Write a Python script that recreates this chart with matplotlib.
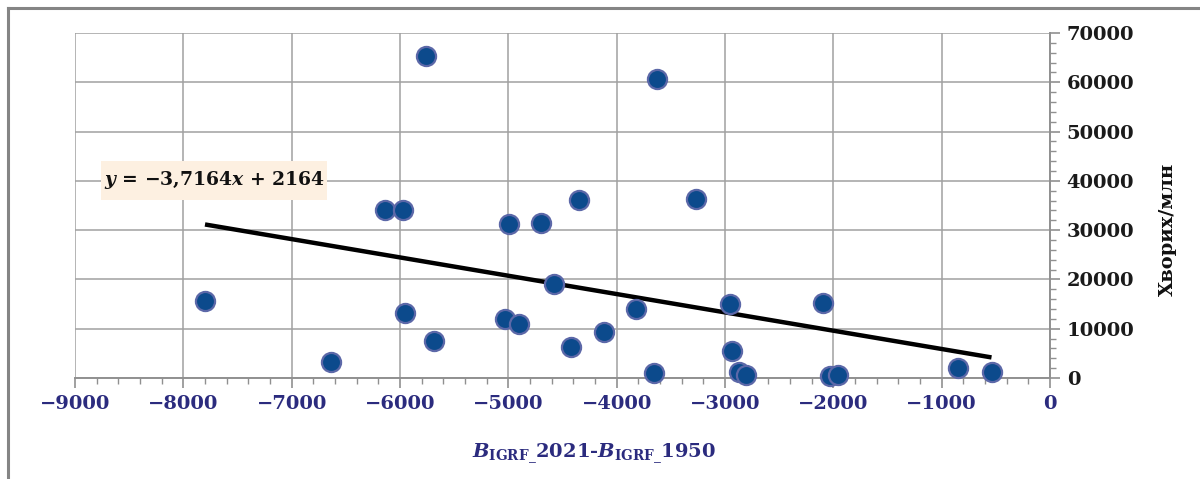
import matplotlib
matplotlib.use("Agg")
import matplotlib.pyplot as plt
from matplotlib.ticker import MultipleLocator
from matplotlib.lines import Line2D
from matplotlib.patches import Rectangle

# ---- data ----
x_vals = [-7800, -6640, -5760, -6140, -5970, -5950, -5690, -5030, -4900, -4990,
          -4700, -4580, -4420, -4350, -4120, -3820, -3660, -3630, -3270, -2950,
          -2940, -2870, -2810, -2100, -2030, -1960, -850, -540]
y_vals = [15700, 3300, 65400, 34000, 34000, 13200, 7500, 12000, 11000, 31200,
          31400, 19100, 6200, 36100, 9300, 13900, 1000, 60600, 36300, 15000,
          5500, 1200, 600, 15200, 400, 700, 2100, 1200]
slope = -3.7164
intercept = 2164
x_ticks = [-9000, -8000, -7000, -6000, -5000, -4000, -3000, -2000, -1000, 0]
y_ticks = [0, 10000, 20000, 30000, 40000, 50000, 60000, 70000]
equation = "$y$ = \u22123,7164$x$ + 2164"
x_label = r"$B_{\mathrm{IGRF\_}}$2021-$B_{\mathrm{IGRF\_}}$1950"
y_label = "Хворих/млн"

plt.rcParams['font.family'] = ['DejaVu Serif']
plt.rcParams['mathtext.fontset'] = 'custom'
plt.rcParams['mathtext.it'] = 'DejaVu Serif:italic:bold'
plt.rcParams['mathtext.rm'] = 'DejaVu Serif:bold'
plt.rcParams['mathtext.bf'] = 'DejaVu Serif:bold'

navy = '#2b2b7e'
grid_c = '#a0a0a0'

fig = plt.figure(figsize=(12, 4.79), dpi=100)
ax = fig.add_axes([0.0625, 0.2109, 0.8125, 0.7202])

ax.set_xlim(-9000, 0)
ax.set_ylim(0, 70000)
ax.set_xticks(x_ticks)
ax.set_yticks(y_ticks)
ax.xaxis.set_minor_locator(MultipleLocator(200))
ax.yaxis.set_minor_locator(MultipleLocator(2000))
ax.yaxis.tick_right()
ax.yaxis.set_label_position('right')

ax.grid(True, which='major', color=grid_c, linewidth=1.1)
ax.set_axisbelow(True)
for s in ['top', 'left']:
    ax.spines[s].set_visible(False)
for s in ['bottom', 'right']:
    ax.spines[s].set_color('#909090')
    ax.spines[s].set_linewidth(1.4)

ax.tick_params(axis='x', which='major', length=7, width=1.2, color='#909090',
               pad=5, labelsize=14, labelcolor=navy)
ax.tick_params(axis='x', which='minor', length=4, width=1.0, color='#909090')
ax.tick_params(axis='y', which='major', length=7, width=1.2, color='#909090',
               pad=5, labelsize=14, labelcolor='#1a1a1a')
ax.tick_params(axis='y', which='minor', length=4, width=1.0, color='#909090')
ax.set_xticklabels([f"{v}".replace('-', '\u2212') for v in x_ticks], fontweight='bold')
ax.set_yticklabels([f"{v}" for v in y_ticks], fontweight='bold')

# trend line
xl = [min(x_vals), max(x_vals)]
yl = [slope * v + intercept for v in xl]
ax.plot(xl, yl, color='black', linewidth=3.2, solid_capstyle='butt', zorder=3)

# points
ax.scatter(x_vals, y_vals, s=190, color='#0c4a8c', edgecolors='#5c68a8',
           linewidths=1.6, zorder=4, clip_on=False)

# equation label with box
ax.add_patch(Rectangle((0.0267, 0.516), 0.2318, 0.113, transform=ax.transAxes,
                       facecolor='#fdf0e1', edgecolor='none', zorder=2.5))
ax.text(0.1426, 0.5725, equation, transform=ax.transAxes, ha='center', va='center',
        fontsize=13.5, fontweight='bold', color='#111111', zorder=5)

ax.set_xlabel(x_label, fontsize=14, color=navy, fontweight='bold')
ax.xaxis.set_label_coords(0.532, -0.185)
ax.set_ylabel(y_label, fontsize=14, color='#111111', fontweight='bold',
              rotation=90)
ax.yaxis.set_label_coords(1.112, 0.43)

# outer border (top and left)
fig.add_artist(Line2D([0.0065, 1.0], [1 - 8 / 479, 1 - 8 / 479], transform=fig.transFigure,
                      color='#858585', linewidth=2.2))
fig.add_artist(Line2D([8 / 1200, 8 / 1200], [0.0, 1 - 8 / 479], transform=fig.transFigure,
                      color='#858585', linewidth=2.2))

fig.savefig('out.png', dpi=100)
